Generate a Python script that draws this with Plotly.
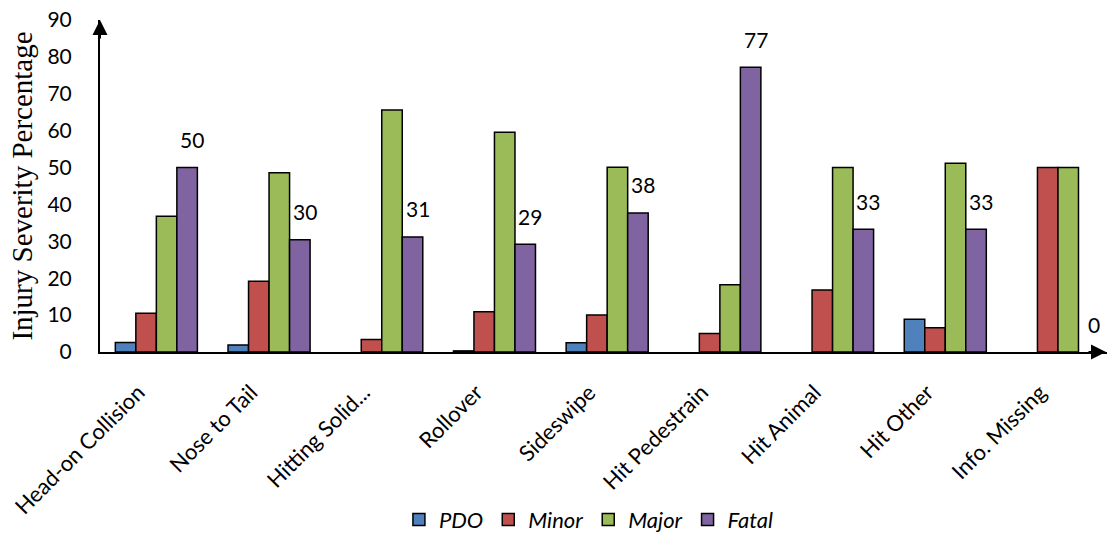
import plotly.graph_objects as go

categories = ["Head-on Collision", "Nose to Tail", "Hitting Solid...", "Rollover",
              "Sideswipe", "Hit Pedestrain", "Hit Animal", "Hit Other", "Info. Missing"]
pdo   = [2.6, 1.9, 0.0, 0.3, 2.5, 0.0, 0.0, 8.9, 0.0]
minor = [10.5, 19.2, 3.4, 10.9, 10.0, 5.0, 16.8, 6.6, 50.0]
major = [36.8, 48.6, 65.6, 59.6, 50.1, 18.2, 50.0, 51.2, 50.0]
fatal = [50.0, 30.4, 31.2, 29.2, 37.7, 77.2, 33.3, 33.3, 0.0]
series_names = ["PDO", "Minor", "Major", "Fatal"]
series_colors = ["#4F81BD", "#C0504D", "#9BBB59", "#8064A2"]
y_ticks = [0, 10, 20, 30, 40, 50, 60, 70, 80, 90]

FONT = "Lato, 'Open Sans', sans-serif"
BARGAP = 0.272

fig = go.Figure()
for name, vals, col in zip(series_names, [pdo, minor, major, fatal], series_colors):
    fig.add_trace(go.Bar(
        x=categories, y=vals, name=name,
        marker=dict(color=col,
                    line=dict(color="black", width=[1.5 if v > 0 else 0 for v in vals])),
    ))

# Fatal data labels
bar_w = (1 - BARGAP) / 4
annotations = []
for i, v in enumerate(fatal):
    annotations.append(dict(
        x=i + 1.5 * bar_w, y=v, xref="x", yref="y",
        text=str(int(round(v))), showarrow=False,
        yanchor="middle", xanchor="center", yshift=28, xshift=5,
        font=dict(family=FONT, size=21, color="black"),
    ))

# axis arrowheads
annotations.append(dict(x=0, y=1, xref="paper", yref="paper", ax=0, ay=20,
                        axref="pixel", ayref="pixel", text="", showarrow=True,
                        arrowhead=2, arrowsize=1.5, arrowwidth=2, arrowcolor="black",
                        standoff=0))
annotations.append(dict(x=1, y=0, xref="paper", yref="paper", ax=-20, ay=0,
                        axref="pixel", ayref="pixel", text="", showarrow=True,
                        arrowhead=2, arrowsize=1.5, arrowwidth=2, arrowcolor="black",
                        standoff=0))

fig.update_layout(
    width=1107, height=533,
    margin=dict(l=100, r=0, t=20, b=181),
    paper_bgcolor="white", plot_bgcolor="white",
    barmode="group", bargap=BARGAP, bargroupgap=0,
    font=dict(family=FONT, size=21, color="black"),
    showlegend=True,
    legend=dict(orientation="h", x=0.532, xref="container", xanchor="center",
                y=0.025, yref="container", yanchor="middle",
                font=dict(family=FONT, size=22, color="black", style="italic"),
                itemwidth=30, traceorder="normal"),
    annotations=annotations,
    xaxis=dict(
        type="category", range=[-0.5, 8.435],
        showline=True, linecolor="black", linewidth=2,
        showgrid=False, zeroline=False, ticks="",
        tickangle=-45, tickfont=dict(family=FONT, size=22, color="black"),
        ticklabelstandoff=17, ticklabelshift=-18,
        automargin=False,
    ),
    yaxis=dict(
        range=[0, 90], tickvals=y_ticks,
        showline=True, linecolor="black", linewidth=2,
        showgrid=False, zeroline=False, ticks="",
        ticklabelstandoff=22,
        tickfont=dict(family=FONT, size=21, color="black"),
        title=dict(text="Injury Severity Percentage",
                   font=dict(family="'Liberation Serif', 'Times New Roman', serif", size=29, color="black"),
                   standoff=6),
        automargin=False,
    ),
)

fig.write_html("out.html")
